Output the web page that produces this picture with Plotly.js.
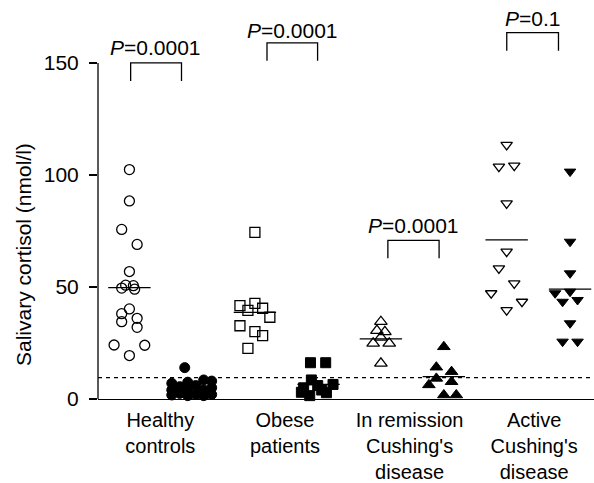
<!DOCTYPE html>
<html>
<head>
<meta charset="utf-8">
<script src="https://cdn.plot.ly/plotly-3.0.1.min.js"></script>
<style>html,body{margin:0;padding:0;background:#fff;}#chart{width:594px;height:483px;}</style>
</head>
<body>
<div id="chart"></div>
<script>
// ---- data ----
const groupLabels = ["Healthy<br>controls", "Obese<br>patients", "In remission<br>Cushing's<br>disease", "Active<br>Cushing's<br>disease"];
const pValues = ["0.0001", "0.0001", "0.0001", "0.1"];

const healthyOpen = [102.4, 88.4, 75.7, 69.0, 56.9, 50.8, 49.5, 50.6, 49.0, 40.2, 38.1, 36.0, 34.5, 32.0, 24.1, 24.0, 19.4];
const healthyFilled = [14.0, 7.0, 4.0, 1.8, 2.5, 5.5, 1.5, 4.5, 2.0, 6.0, 8.5, 4.0, 1.5, 8.0, 5.0, 2.0, 7.5];
const obeseOpen = [74.4, 41.7, 42.7, 39.6, 40.5, 36.5, 32.7, 30.1, 28.3, 22.6];
const obeseFilled = [16.2, 16.2, 8.5, 6.0, 5.0, 3.0, 1.5, 4.0, 6.5, 2.8];
const remissionOpen = [34.5, 30.5, 30.0, 27.5, 24.8, 24.8, 15.9];
const remissionFilled = [23.3, 14.2, 12.2, 9.2, 6.3, 7.7, 1.8, 1.8];
const activeOpen = [113.4, 103.7, 104.2, 87.3, 65.8, 58.3, 51.6, 47.2, 39.7, 43.4];
const activeFilled = [101.5, 70.2, 56.1, 47.2, 47.9, 43.4, 44.2, 33.8, 25.6, 25.6];

const medianOpen = [49.7, 38.7, 26.8, 71.0];
const medianFilled = [5.0, 6.5, 10.0, 49.0];
const cutoff = 9.5;

// horizontal scatter offsets of the points within each column
const healthyOpenJit = [0, 0, -0.062, 0.062, 0, -0.03, -0.062, 0.032, 0.042, 0, -0.062, 0.062, -0.062, 0.062, -0.123, 0.123, 0];
const healthyFilledJit = [-0.056, -0.16, -0.16, -0.16, -0.096, -0.096, -0.032, -0.032, 0.032, 0.032, 0.096, 0.096, 0.096, 0.16, 0.16, 0.16, -0.032];
const obeseOpenJit = [0, -0.12, 0, -0.056, 0.062, 0.12, -0.12, 0, 0.062, -0.056];
const obeseFilledJit = [-0.065, 0.057, -0.058, -0.007, -0.12, -0.138, -0.071, 0.025, 0.116, 0.063];
const remissionOpenJit = [0, -0.032, 0.032, 0, -0.062, 0.067, 0];
const remissionFilledJit = [0, -0.06, 0.062, -0.06, -0.12, 0.062, 0, 0.1];
const activeOpenJit = [0, -0.062, 0.061, 0, 0, -0.062, 0.061, -0.124, 0, 0.123];
const activeFilledJit = [0, 0, 0, -0.12, 0, -0.06, 0.06, 0, -0.06, 0.06];

// ---- layout constants ----
const openPos = [0.752, 1.759, 2.77, 3.779];
const filledPos = [1.252, 2.27, 3.275, 4.288];
const halfW = 0.17;
const bracketX = [[0.762, 1.17], [1.856, 2.262], [2.826, 3.237], [3.78, 4.195]];
const bracketTop = [150, 159, 70.8, 163.5];
const bracketDrop = 8;
const pLabelX = [0.962, 2.057, 3.03, 3.985];
const pLabelY = [156.8, 164.7, 77.5, 169.9];

const FONT = "Liberation Sans, Arial, Helvetica, sans-serif";
const FS = 21;

const openSeries = [healthyOpen, obeseOpen, remissionOpen, activeOpen];
const filledSeries = [healthyFilled, obeseFilled, remissionFilled, activeFilled];
const openJit = [healthyOpenJit, obeseOpenJit, remissionOpenJit, activeOpenJit];
const filledJit = [healthyFilledJit, obeseFilledJit, remissionFilledJit, activeFilledJit];
const openSym = ["circle-open", "square-open", "triangle-up-open", "triangle-down-open"];
const filledSym = ["circle", "square", "triangle-up", "triangle-down"];
const sizes = [10, 10, 11, 10];

const traces = [];
traces.push({
  type: "scatter", mode: "lines", cliponaxis: false, hoverinfo: "skip",
  x: [0.5, 4.48], y: [cutoff, cutoff],
  line: {color: "#000", width: 1.3, dash: "4px,4px"}
});
for (let g = 0; g < 4; g++) {
  traces.push({
    type: "scatter", mode: "markers", cliponaxis: false, hoverinfo: "skip",
    x: openSeries[g].map((v, i) => openPos[g] + openJit[g][i]), y: openSeries[g],
    marker: {symbol: openSym[g], size: sizes[g], color: "#000", line: {color: "#000", width: 1.3}}
  });
  traces.push({
    type: "scatter", mode: "markers", cliponaxis: false, hoverinfo: "skip",
    x: filledSeries[g].map((v, i) => filledPos[g] + filledJit[g][i]), y: filledSeries[g],
    marker: {symbol: filledSym[g], size: sizes[g], color: "#000", line: {color: "#000", width: 1}}
  });
  traces.push({
    type: "scatter", mode: "lines", cliponaxis: false, hoverinfo: "skip",
    x: [openPos[g] - halfW, openPos[g] + halfW], y: [medianOpen[g], medianOpen[g]],
    line: {color: "#000", width: 1.3}
  });
  traces.push({
    type: "scatter", mode: "lines", cliponaxis: false, hoverinfo: "skip",
    x: [filledPos[g] - halfW, filledPos[g] + halfW], y: [medianFilled[g], medianFilled[g]],
    line: {color: "#000", width: 1.3}
  });
  traces.push({
    type: "scatter", mode: "lines", cliponaxis: false, hoverinfo: "skip",
    x: [bracketX[g][0], bracketX[g][0], bracketX[g][1], bracketX[g][1]],
    y: [bracketTop[g] - bracketDrop, bracketTop[g], bracketTop[g], bracketTop[g] - bracketDrop],
    line: {color: "#000", width: 1.3}
  });
}

const annotations = pValues.map((p, g) => ({
  x: pLabelX[g], y: pLabelY[g], xref: "x", yref: "y",
  text: "<i>P</i>=" + p, showarrow: false, xanchor: "center", yanchor: "middle",
  font: {family: FONT, size: FS, color: "#000"}
}));
annotations.push({
  x: -0.149, y: 64.3, xref: "paper", yref: "y", textangle: -90,
  text: "Salivary cortisol (nmol/l)", showarrow: false, xanchor: "center", yanchor: "middle",
  font: {family: FONT, size: FS, color: "#000"}
});

const layout = {
  width: 594, height: 483,
  margin: {l: 98, r: 0, t: 0, b: 84, pad: 0},
  paper_bgcolor: "#fff", plot_bgcolor: "#fff",
  showlegend: false,
  font: {family: FONT, size: FS, color: "#000"},
  xaxis: {
    range: [0.5, 4.48], showgrid: false, zeroline: false,
    showline: true, linecolor: "#000", linewidth: 1.3,
    tickmode: "array", tickvals: [1, 2, 3, 4], ticktext: groupLabels,
    ticks: "", ticklabelstandoff: 3, tickfont: {family: FONT, size: 20, color: "#000"}, fixedrange: true
  },
  yaxis: {
    range: [0, 178.1], showgrid: false, zeroline: false, showline: false,
    tickmode: "array", tickvals: [0, 50, 100, 150], ticktext: ["0", "50", "100", "150"],
    ticks: "outside", ticklen: 8, tickwidth: 1.3, tickcolor: "#000", ticklabelstandoff: 6,
    tickfont: {family: FONT, size: FS, color: "#000"}, fixedrange: true
  },
  shapes: [{type: "line", xref: "paper", yref: "y", x0: 0, x1: 0, y0: 0, y1: 150, line: {color: "#000", width: 1.3}}],
  annotations: annotations
};

Plotly.newPlot("chart", traces, layout, {staticPlot: true, displayModeBar: false});
</script>
</body>
</html>
